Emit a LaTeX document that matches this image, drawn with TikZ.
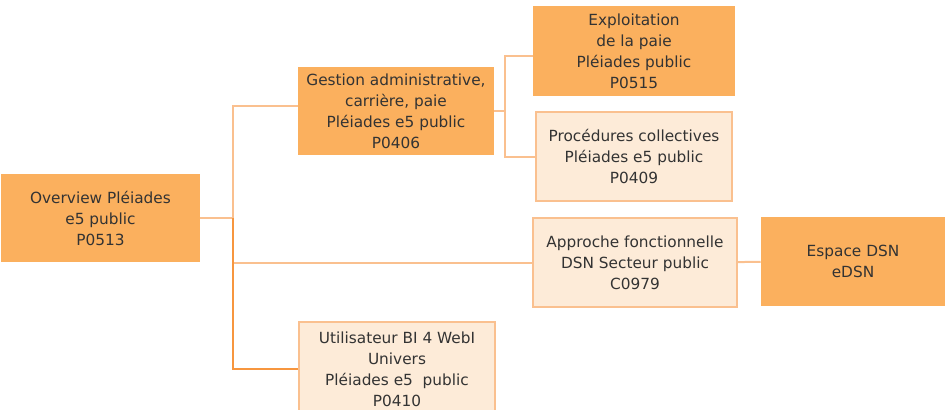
\documentclass[tikz,border=0pt]{standalone}
\usepackage{fontspec}
\setmainfont{DejaVu Sans}
\usepackage{xcolor}
\usepackage{tikz}

\definecolor{boxorange}{HTML}{FBB05E}
\definecolor{boxlight}{HTML}{FDEBD8}
\definecolor{edgelight}{HTML}{FAC08F}
\definecolor{edgedark}{HTML}{F7963F}
\definecolor{txtgray}{HTML}{333333}

\tikzset{
  mainbox/.style={rectangle, fill=boxorange, align=center, inner sep=0pt, text=txtgray},
  subbox/.style={rectangle, fill=boxlight, draw=edgelight, line width=1.5pt, align=center, inner sep=0pt, text=txtgray},
  link/.style={draw=edgelight, line width=1.5pt}
}

\begin{document}
\begin{tikzpicture}[x=0.75pt, y=-0.75pt, font=\fontsize{11.5}{15.75}\selectfont]
   \useasboundingbox (0,0) rectangle (945,410);

   \node [mainbox, minimum width=149pt, minimum height=66pt] (overview) at (100.5, 218) {Overview Pléiades\\e5 public\\P0513};
   \node [mainbox, minimum width=147pt, minimum height=66pt] (gestion) at (396, 111) {Gestion administrative,\\carrière, paie\\Pléiades e5 public\\P0406};
   \node [mainbox, minimum width=151.5pt, minimum height=67.5pt] (exploit) at (634, 51) {Exploitation\\de la paie\\Pléiades public\\P0515};
   \node [subbox, minimum width=147pt, minimum height=67pt] (proced) at (634, 156.5) {Procédures collectives\\Pléiades e5 public\\P0409};
   \node [subbox, minimum width=153pt, minimum height=67pt] (approche) at (635, 262.5) {Approche fonctionnelle\\DSN Secteur public\\C0979};
   \node [mainbox, minimum width=138pt, minimum height=67pt] (espace) at (853, 261.5) {Espace DSN\\eDSN};
   \node [subbox, minimum width=147pt, minimum height=70pt] (utilis) at (397, 369) {Utilisateur BI 4 WebI\\Univers\\Pléiades e5~~public\\P0410};

   \coordinate (trunk) at (233, 218);
   \coordinate (fork) at (505, 111);

   \path [link] (overview) -- (trunk);
   \path [link] (trunk) |- (gestion.177);
   \path [link] (trunk) |- (approche.west);
   \path [link, draw=edgedark] (trunk) |- (utilis.west);
   \path [link] (gestion) -- (fork);
   \path [link] (fork) |- (exploit.183.4);
   \path [link] (fork) |- (proced.west);
   \path [link] (approche) -- (espace);
\end{tikzpicture}
\end{document}
